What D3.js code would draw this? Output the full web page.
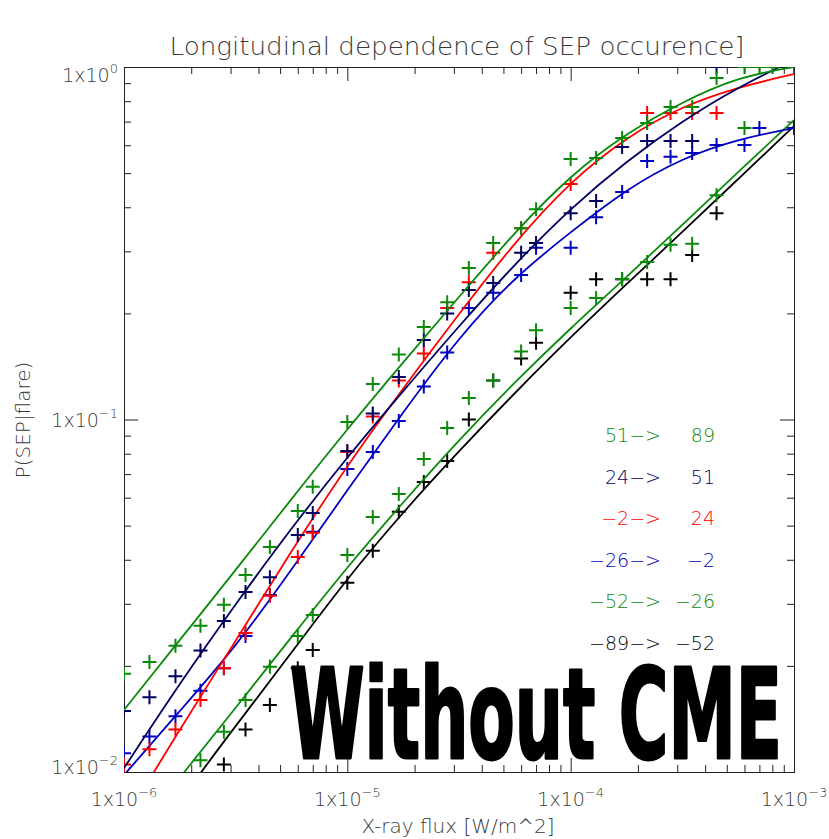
<!DOCTYPE html>
<html>
<head>
<meta charset="utf-8">
<script src="https://cdn.jsdelivr.net/npm/d3@7/dist/d3.min.js"></script>
<style>
  html, body { margin: 0; padding: 0; background: #fff; }
  svg { display: block; }
  text { font-family: "DejaVu Sans", sans-serif; }
</style>
</head>
<body>
<svg id="chart" width="829" height="839"></svg>
<script>
// X-ray flux bins (W/m^2) at which the SEP probability was measured
const fluxBins = [1e-6,1.3e-6,1.7e-6,2.2e-6,2.8e-6,3.5e-6,4.5e-6,6e-6,7e-6,
  1e-5,1.3e-5,1.7e-5,2.2e-5,2.8e-5,3.5e-5,4.5e-5,6e-5,7e-5,
  1e-4,1.3e-4,1.7e-4,2.2e-4,2.8e-4,3.5e-4,4.5e-4,6e-4,7e-4,8e-4,1e-3];

// Measured P(SEP|flare) per longitude band (null = no value in that bin)
const probW51to89 = [0.019,0.0205,0.0228,0.026,0.0298,0.0362,0.0435,0.055,0.0644,
  0.0984,0.126,0.153,0.183,0.215,0.269,0.317,0.349,0.395,
  0.548,0.552,0.629,0.694,0.770,0.770,0.931,1,1,1,1];
const probW24to51 = [0.0149,0.0163,0.0187,0.0221,0.0268,0.0324,0.0357,0.047,0.0543,
  0.0814,0.104,0.132,0.168,0.2,0.233,0.244,0.297,0.317,
  0.385,0.417,0.593,0.617,0.617,0.617,1,null,null,null,null];
const probM2to24 = [0.0105,0.0116,0.0132,0.016,0.0197,0.0248,0.0316,0.0407,0.0477,
  0.0809,0.102,0.129,0.154,0.207,0.245,0.297,0.349,null,
  0.466,null,null,0.74,0.74,0.74,0.74,null,null,null,null];
const probM26toM2 = [0.0113,0.0126,0.0144,0.017,0.0197,0.0243,0.0318,null,0.048,
  0.0724,0.0809,0.099,0.124,0.155,0.207,0.229,0.257,0.307,
  0.307,0.375,0.442,0.541,0.556,0.57,0.601,0.601,0.671,null,0.671];
const probM52toM26 = [null,null,null,0.0108,0.013,0.016,0.0199,0.0243,0.0279,
  0.0413,0.0529,0.0615,0.0773,0.0946,0.115,0.129,0.156,0.179,
  0.207,0.221,0.25,0.28,0.313,0.315,0.433,0.671,null,null,null];
const probM89toM52 = [null,null,null,null,0.0105,0.0132,0.0155,0.0197,0.0222,
  0.0344,0.0424,0.0547,0.0665,0.0762,0.1,0.129,0.149,0.165,
  0.229,0.25,0.25,0.25,0.25,0.293,0.385,null,null,null,null];

// Fitted probability curves, sampled every quarter decade
const fitFlux = [1e-6,1.78e-6,3.16e-6,5.62e-6,1e-5,1.78e-5,3.16e-5,5.62e-5,1e-4,1.78e-4,3.16e-4,5.62e-4,1e-3];
const fitW51to89  = [0.0150,0.0237,0.0374,0.0595,0.0940,0.1456,0.2226,0.340,0.494,0.650,0.796,0.937,1.0];
const fitW24to51  = [0.01026,0.01789,0.02997,0.04923,0.0783,0.1205,0.1842,0.2761,0.398,0.541,0.703,0.877,1.047];
const fitM2to24   = [0.00726,0.01324,0.02353,0.0424,0.0743,0.1229,0.1992,0.3189,0.475,0.633,0.775,0.877,0.955];
const fitM26toM2  = [0.0098,0.0149,0.02263,0.0374,0.0631,0.105,0.1714,0.2537,0.340,0.451,0.552,0.625,0.671];
const fitM52toM26 = [0.00617,0.00962,0.0152,0.02415,0.0382,0.0583,0.0875,0.1277,0.1818,0.2537,0.356,0.504,0.707];
const fitM89toM52 = [0.00481,0.00833,0.0135,0.0218,0.0355,0.0547,0.0814,0.119,0.1714,0.2424,0.340,0.481,0.680];

// Longitude band limits (degrees), legend order top to bottom
const bandFrom = [51, 24, -2, -26, -52, -89];
const bandTo   = [89, 51, 24, -2, -26, -52];
const bandColor = ["#0a8a0a", "#000060", "#ff0000", "#0000c0", "#0a8a0a", "#000000"];
const bandProb = [probW51to89, probW24to51, probM2to24, probM26toM2, probM52toM26, probM89toM52];
const bandFit  = [fitW51to89, fitW24to51, fitM2to24, fitM26toM2, fitM52toM26, fitM89toM52];

const titleText = "Longitudinal dependence of SEP occurence]";
const xLabel = "X-ray flux [W/m^2]";
const yLabel = "P(SEP|flare)";
const stampText = "Without CME";

const xTickExp = [-6, -5, -4, -3];
const yTickExp = [-2, -1, 0];

// ---- layout ----
const L = 124, R = 794, T = 67, B = 772;
const svg = d3.select("#chart");
const x = d3.scaleLog().domain([1e-6, 1e-3]).range([L, R]);
const y = d3.scaleLog().domain([1e-2, 1]).range([B, T]);

svg.append("defs").append("clipPath").attr("id", "plotClip")
  .append("rect").attr("x", L).attr("y", T).attr("width", R - L).attr("height", B - T);

// ---- axes (ticks point inward on all four sides) ----
const minorOf = (lo, hi) => {
  const v = [];
  for (let e = lo; e < hi; e++) for (let k = 2; k <= 9; k++) v.push(k * Math.pow(10, e));
  return v;
};
const xMajor = xTickExp.map(e => Math.pow(10, e));
const yMajor = yTickExp.map(e => Math.pow(10, e));
const xMinor = minorOf(-6, -3);
const yMinor = minorOf(-2, 0);

function addAxis(gen, tx, ty, vals, size) {
  const g = svg.append("g").attr("transform", `translate(${tx},${ty})`)
    .call(gen.tickValues(vals).tickSize(size).tickSizeOuter(0).tickFormat(""));
  g.selectAll("path, line").attr("stroke", "#222").attr("stroke-width", 1);
  return g;
}
addAxis(d3.axisBottom(x), 0, B, xMajor, -14);
addAxis(d3.axisBottom(x), 0, B, xMinor, -7);
addAxis(d3.axisTop(x), 0, T, xMajor, -14);
addAxis(d3.axisTop(x), 0, T, xMinor, -7);
addAxis(d3.axisLeft(y), L, 0, yMajor, -14);
addAxis(d3.axisLeft(y), L, 0, yMinor, -7);
addAxis(d3.axisRight(y), R, 0, yMajor, -14);
addAxis(d3.axisRight(y), R, 0, yMinor, -7);

const fmtExp = e => (e < 0 ? "\u2212" + Math.abs(e) : String(e));
const labelColor = "#3a3a3a";

// x tick labels: 1x10^n
xTickExp.forEach(e => {
  const t = svg.append("text")
    .attr("x", x(Math.pow(10, e))).attr("y", 806)
    .attr("text-anchor", "middle").attr("fill", labelColor)
    .attr("font-size", 19).attr("font-weight", 200);
  t.append("tspan").text("1x10");
  t.append("tspan").attr("dy", -9).attr("font-size", 13).text(fmtExp(e));
});

// y tick labels, kept inside the axis range at the ends
yTickExp.forEach(e => {
  const base = Math.max(82, Math.min(774, y(Math.pow(10, e)) + 7));
  const t = svg.append("text")
    .attr("x", 118).attr("y", base)
    .attr("text-anchor", "end").attr("fill", labelColor)
    .attr("font-size", 19).attr("font-weight", 200);
  t.append("tspan").text("1x10");
  t.append("tspan").attr("dy", -9).attr("font-size", 13).text(fmtExp(e));
});

// title and axis titles
svg.append("text").attr("x", 457).attr("y", 55).attr("text-anchor", "middle")
  .attr("fill", labelColor).attr("font-size", 24).attr("font-weight", 200)
  .attr("textLength", 575).attr("lengthAdjust", "spacingAndGlyphs")
  .text(titleText);
svg.append("text").attr("x", 458).attr("y", 833).attr("text-anchor", "middle")
  .attr("fill", labelColor).attr("font-size", 20).attr("font-weight", 200)
  .text(xLabel);
svg.append("text").attr("transform", "translate(30,420) rotate(-90)")
  .attr("text-anchor", "middle").attr("fill", labelColor)
  .attr("font-size", 20).attr("font-weight", 200)
  .text(yLabel);

// ---- data: fitted curves and measured points ----
const plot = svg.append("g").attr("clip-path", "url(#plotClip)");
const line = d3.line().x(d => x(d[0])).y(d => y(d[1])).curve(d3.curveBasis);

// drawn from the most eastern band upward so the western bands sit on top
for (let i = bandFrom.length - 1; i >= 0; i--) {
  const col = bandColor[i];
  const fitPts = fitFlux.map((f, j) => [f, bandFit[i][j]]);
  plot.append("path").attr("d", line(fitPts))
    .attr("fill", "none").attr("stroke", col).attr("stroke-width", 1.8);

  const pts = fluxBins.map((f, j) => [f, bandProb[i][j]]).filter(d => d[1] != null);
  const s = 7;
  plot.append("g").selectAll("path").data(pts).join("path")
    .attr("d", d => {
      const px = x(d[0]), py = y(d[1]);
      return `M${px - s},${py}H${px + s}M${px},${py - s}V${py + s}`;
    })
    .attr("stroke", col).attr("stroke-width", 2).attr("fill", "none");
}

// ---- legend ----
const fmtDeg = n => (n < 0 ? "\u2212" + Math.abs(n) : String(n));
bandFrom.forEach((f, i) => {
  const by = 442 + i * 41.6;
  svg.append("text").attr("x", 661).attr("y", by).attr("text-anchor", "end")
    .attr("fill", bandColor[i]).attr("font-size", 19).attr("font-weight", 200)
    .text(fmtDeg(f) + "\u2212>");
  svg.append("text").attr("x", 715).attr("y", by).attr("text-anchor", "end")
    .attr("fill", bandColor[i]).attr("font-size", 19).attr("font-weight", 200)
    .text(fmtDeg(bandTo[i]));
});

// ---- stamp: bold condensed caption squeezed to span 290..782 ----
const stamp = svg.append("text")
  .attr("font-family", "'Liberation Sans Narrow', 'DejaVu Sans Condensed', sans-serif")
  .attr("font-weight", "bold").attr("font-size", 124)
  .attr("fill", "#000").attr("stroke", "#000").attr("stroke-width", 3)
  .attr("stroke-linejoin", "round")
  .text(stampText);
const natural = stamp.node().getComputedTextLength();
stamp.attr("transform", `translate(290,758) scale(${492 / natural},1)`);
</script>
</body>
</html>
